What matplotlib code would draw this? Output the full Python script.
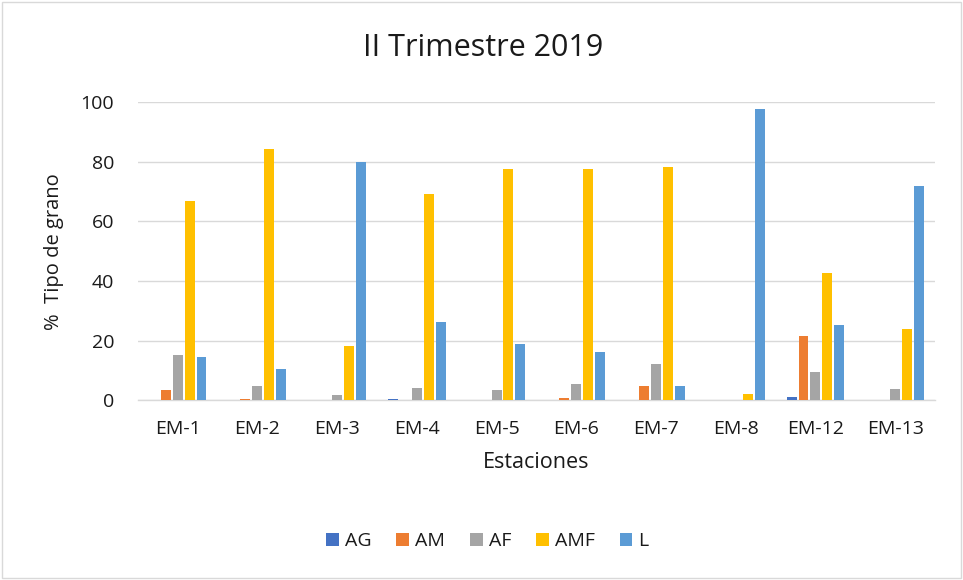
import matplotlib
matplotlib.use("Agg")
import matplotlib.pyplot as plt
import numpy as np
from matplotlib.patches import Rectangle

stations = ["EM-1", "EM-2", "EM-3", "EM-4", "EM-5", "EM-6", "EM-7", "EM-8", "EM-12", "EM-13"]
AG  = [0.2, 0.0, 0.0, 0.3, 0.2, 0.2, 0.2, 0.0, 1.0, 0.0]
AM  = [3.5, 0.3, 0.2, 0.2, 0.2, 0.8, 4.8, 0.0, 21.4, 0.1]
AF  = [15.0, 4.7, 1.7, 4.1, 3.3, 5.5, 12.0, 0.2, 9.4, 3.6]
AMF = [66.7, 84.3, 18.3, 69.1, 77.5, 77.4, 78.2, 2.0, 42.6, 24.0]
L   = [14.6, 10.5, 79.8, 26.3, 18.8, 16.2, 4.7, 97.8, 25.3, 72.0]
series_names = ["AG", "AM", "AF", "AMF", "L"]
colors = ["#4472C4", "#ED7D31", "#A5A5A5", "#FFC000", "#5B9BD5"]

plt.rcParams['font.family'] = ['Open Sans', 'DejaVu Sans']
txt = "#1a1a1a"

fig = plt.figure(figsize=(9.63, 5.8), dpi=100)
ax = fig.add_axes([0.143, 0.310, 0.828, 0.514])

x = np.arange(len(stations))
step = 0.15
width = 0.125
for i, (name, vals, c) in enumerate(zip(series_names, [AG, AM, AF, AMF, L], colors)):
    ax.bar(x + (i - 2) * step, vals, width=width, color=c, label=name, zorder=3)

ax.set_xlim(-0.5, len(stations) - 0.5)
ax.set_ylim(0, 100)
ax.set_yticks([0, 20, 40, 60, 80, 100])
ax.set_xticks(x)
ax.set_xticklabels(stations)
ax.tick_params(axis='both', length=0, labelsize=14, colors=txt)
ax.tick_params(axis='y', pad=17)
ax.tick_params(axis='x', pad=14)
ax.grid(axis='y', color="#D9D9D9", linewidth=1, zorder=0)
for s in ["top", "right", "left"]:
    ax.spines[s].set_visible(False)
ax.spines["bottom"].set_color("#D9D9D9")
ax.spines["bottom"].set_linewidth(1)

fig.text(0.502, 0.917, "II Trimestre 2019", fontsize=22, color=txt, ha="center", va="center")
ax.set_ylabel("%  Tipo de grano", fontsize=14.5, color=txt, labelpad=12)
ax.set_xlabel("Estaciones", fontsize=15.5, color=txt, labelpad=10)

leg = fig.legend(loc="center", bbox_to_anchor=(0.506, 0.067), ncol=5, frameon=False,
                 fontsize=14, handlelength=0.65, handleheight=0.65, columnspacing=1.3,
                 handletextpad=0.3)
for t in leg.get_texts():
    t.set_color(txt)

fig.patches.append(Rectangle((0.002, 0.003), 0.996, 0.994, transform=fig.transFigure,
                             fill=False, edgecolor="#D9D9D9", linewidth=1))

fig.savefig("out.png", dpi=100)
